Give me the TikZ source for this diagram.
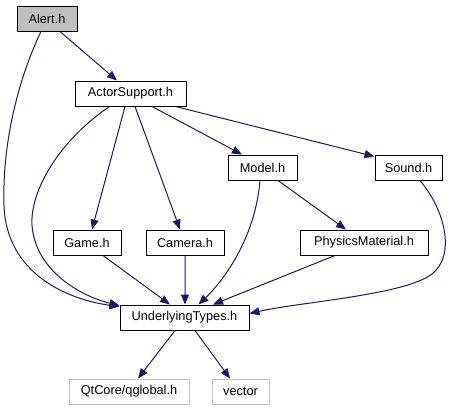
\documentclass[tikz,border=0pt]{standalone}
\usepackage{fontspec}
\setmainfont{Liberation Sans}
\usetikzlibrary{arrows.meta}
\definecolor{edgeblue}{HTML}{191970}
\definecolor{alertgray}{HTML}{BFBFBF}
\definecolor{extgray}{HTML}{BFBFBF}
\tikzset{
  box/.style={draw=black, line width=1bp, fill=white, inner sep=0pt, minimum height=25bp, font=\fontsize{12.8}{14}\selectfont},
  extbox/.style={box, draw=extgray},
  dep/.style={draw=edgeblue, line width=1bp, -{Triangle[length=10bp,width=8bp]}},
}
\begin{document}
\begin{tikzpicture}[x=1bp,y=-1bp]
\useasboundingbox (0,0) rectangle (451,411);
\node[box, fill=alertgray, minimum width=60bp] (alert) at (47,18.5) {Alert.h};
\node[box, minimum width=111bp] (actor) at (130.5,93.5) {ActorSupport.h};
\node[box, minimum width=69bp] (model) at (262.5,167.5) {Model.h};
\node[box, minimum width=67bp] (sound) at (408.5,167.5) {Sound.h};
\node[box, minimum width=128bp] (phys) at (364,242.5) {PhysicsMaterial.h};
\node[box, minimum width=68bp] (game) at (87,242.5) {Game.h};
\node[box, minimum width=78bp] (camera) at (185,242.5) {Camera.h};
\node[box, minimum width=129bp] (ut) at (184.5,317.5) {UnderlyingTypes.h};
\node[extbox, minimum width=120bp] (qt) at (129,391.5) {QtCore/qglobal.h};
\node[extbox, minimum width=57bp] (vec) at (240.5,391.5) {vector};

\draw[dep] ([xshift=13bp]alert.south) -- ([xshift=-13.5bp]actor.north);
\draw[dep] ([xshift=-6bp]alert.south) .. controls (20,75) and (2,140) .. (4,205) .. controls (6,275) and (70,300) .. ([yshift=-2bp]ut.north west);
\draw[dep] ([xshift=-21bp]actor.south) .. controls (60,140) and (30,190) .. (32,225) .. controls (35,270) and (80,296) .. ([yshift=-1bp]ut.north west);
\draw[dep] ([xshift=-5.5bp]actor.south) -- ([xshift=5bp]game.north);
\draw[dep] ([xshift=4.5bp]actor.south) -- ([xshift=-5bp]camera.north);
\draw[dep] ([xshift=21.5bp]actor.south) -- ([xshift=-20.5bp]model.north);
\draw[dep] ([xshift=45bp]actor.south) -- ([yshift=-2bp]sound.north west);
\draw[dep] ([xshift=-2.5bp]model.south) .. controls (255,240) and (222,282) .. ([xshift=14bp]ut.north);
\draw[dep] ([xshift=15.5bp]model.south) -- ([xshift=-18bp]phys.north);
\draw[dep] ([xshift=11.5bp]sound.south) .. controls (445,210) and (456,255) .. (432,274) .. controls (405,295) and (300,302) .. ([yshift=-9bp]ut.north east);
\draw[dep] ([xshift=-29bp]phys.south) -- ([xshift=28.5bp]ut.north);
\draw[dep] ([xshift=16bp]game.south) -- ([xshift=-14.5bp]ut.north);
\draw[dep] (camera.south) -- ([xshift=0.5bp]ut.north);
\draw[dep] ([xshift=-9.5bp]ut.south) -- ([xshift=9bp]qt.north);
\draw[dep] ([xshift=10.5bp]ut.south) -- ([xshift=-10.5bp]vec.north);
\end{tikzpicture}
\end{document}
